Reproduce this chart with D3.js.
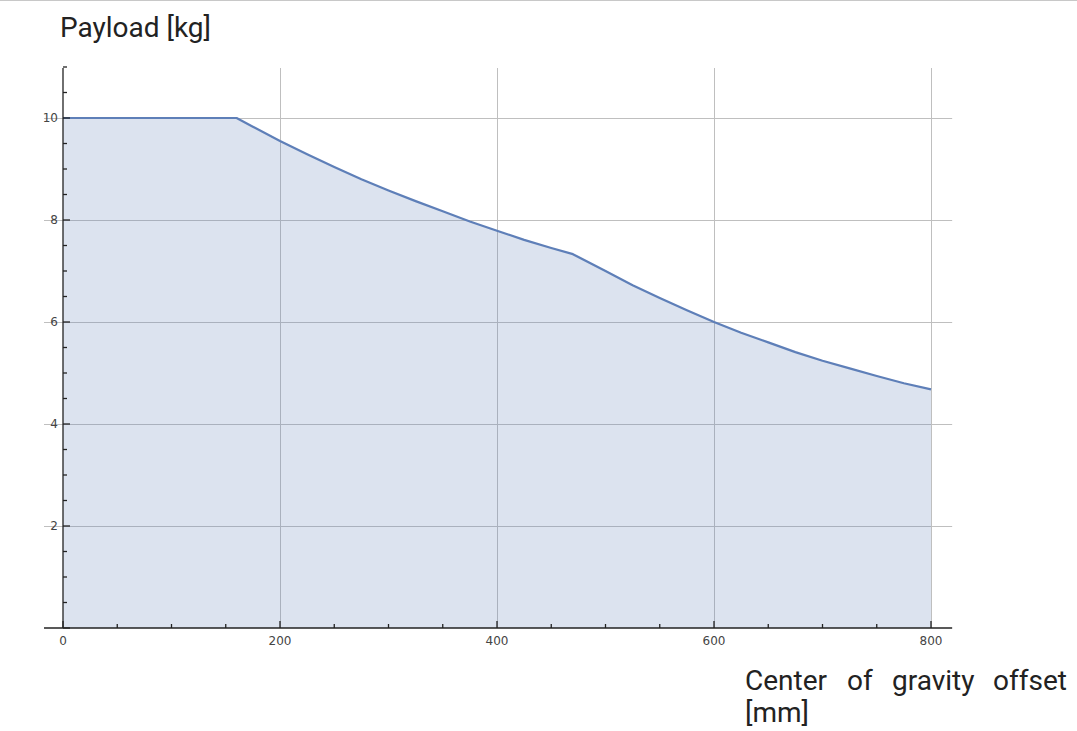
<!DOCTYPE html>
<html><head><meta charset="utf-8">
<script src="https://cdn.jsdelivr.net/npm/d3@7"></script>
<style>body{margin:0;background:#fff;}svg{display:block;}</style>
</head><body>
<svg id="c" width="1077" height="731"></svg>
<script>
// Data
const offsets  = [0, 160, 175, 200, 225, 250, 275, 300, 325, 350, 375, 400, 425, 450, 470,
                  500, 525, 550, 575, 600, 625, 650, 675, 700, 725, 750, 775, 800];
const payloads = [10, 10, 9.83, 9.55, 9.29, 9.04, 8.80, 8.58, 8.37, 8.17, 7.97, 7.79, 7.61, 7.45, 7.33,
                  7.0, 6.72, 6.47, 6.23, 6.0, 5.79, 5.6, 5.41, 5.24, 5.09, 4.94, 4.80, 4.68];
const xTicks = [0, 200, 400, 600, 800];
const yTicks = [2, 4, 6, 8, 10];
const titleText = "Payload [kg]";
const xLabelWords = ["Center", "of", "gravity", "offset"];
const xLabelLine2 = "[mm]";

const svg = d3.select("#c");
const font = "Roboto, 'Open Sans', sans-serif";
const tickFont = "'DejaVu Sans', Verdana, sans-serif";
const x = d3.scaleLinear().domain([0, 800]).range([63, 931]);
const y = d3.scaleLinear().domain([0, 10]).range([628, 118]);
const xMin = -17.5, xMax = 819.5, yMax = 10.98;

// top border
svg.append("line").attr("x1",0).attr("x2",1077).attr("y1",0.5).attr("y2",0.5).attr("stroke","#c8c8c8");

// grid
const grid = svg.append("g").attr("stroke","#bfbfbf").attr("stroke-width",1);
grid.selectAll("line.h").data(yTicks).join("line").attr("class","h")
  .attr("x1", x(xMin)).attr("x2", x(xMax)).attr("y1", d=>Math.round(y(d))+0.5).attr("y2", d=>Math.round(y(d))+0.5);
grid.selectAll("line.v").data(xTicks.filter(d=>d>0)).join("line").attr("class","v")
  .attr("x1", d=>Math.round(x(d))+0.5).attr("x2", d=>Math.round(x(d))+0.5).attr("y1", y(yMax)).attr("y2", y(0));

const data = offsets.map((o,i)=>({o, p: payloads[i]}));
const area = d3.area().x(d=>x(d.o)).y0(y(0)).y1(d=>y(d.p));
const line = d3.line().x(d=>x(d.o)).y(d=>y(d.p));
svg.append("path").datum(data).attr("d", area).attr("fill","#5e81b5").attr("fill-opacity",0.22);
svg.append("path").datum(data).attr("d", line).attr("fill","none").attr("stroke","#5e7fb8")
  .attr("stroke-width",2.2).attr("stroke-linejoin","round");

// axes
const ax = svg.append("g").attr("stroke","#222").attr("stroke-width",1.3);
ax.append("line").attr("x1", x(xMin)).attr("x2", x(xMax)).attr("y1", y(0)).attr("y2", y(0));
ax.append("line").attr("x1", x(0)).attr("x2", x(0)).attr("y1", y(yMax)).attr("y2", y(0));

const xMinor = d3.range(0, 801, 50);
ax.selectAll("line.xt").data(xMinor).join("line").attr("class","xt")
  .attr("x1", d=>x(d)).attr("x2", d=>x(d)).attr("y1", y(0))
  .attr("y2", d=> y(0) - (d%200===0 ? 7 : 4));
const yMinor = d3.range(0, 11.01, 0.5);
ax.selectAll("line.yt").data(yMinor).join("line").attr("class","yt")
  .attr("y1", d=>y(d)).attr("y2", d=>y(d)).attr("x1", x(0))
  .attr("x2", d=> x(0) + (d%2===0 ? 7 : 4));

// tick labels
svg.selectAll("text.xl").data(xTicks).join("text").attr("class","xl")
  .attr("x", d=>x(d)).attr("y", 645).attr("text-anchor","middle")
  .attr("font-family", tickFont).attr("font-size", 12).attr("fill","#444").text(d=>d);
svg.selectAll("text.yl").data(yTicks).join("text").attr("class","yl")
  .attr("x", 58).attr("y", d=>y(d)+4.4).attr("text-anchor","end")
  .attr("font-family", tickFont).attr("font-size", 12).attr("fill","#444").text(d=>d);

// titles
svg.append("text").attr("x", 60).attr("y", 37).attr("font-family", font).attr("font-size", 28)
  .attr("fill","#222").text(titleText);
const wordX = [745, 847, 892, 993];
const xl = svg.append("text").attr("font-family", font).attr("font-size", 28).attr("fill","#222");
xLabelWords.forEach((w,i)=> xl.append("tspan").attr("x", wordX[i]).attr("y", 690).text(w));
svg.append("text").attr("x", 745).attr("y", 722).attr("font-family", font).attr("font-size", 28)
  .attr("fill","#222").text(xLabelLine2);
</script>
</body></html>
